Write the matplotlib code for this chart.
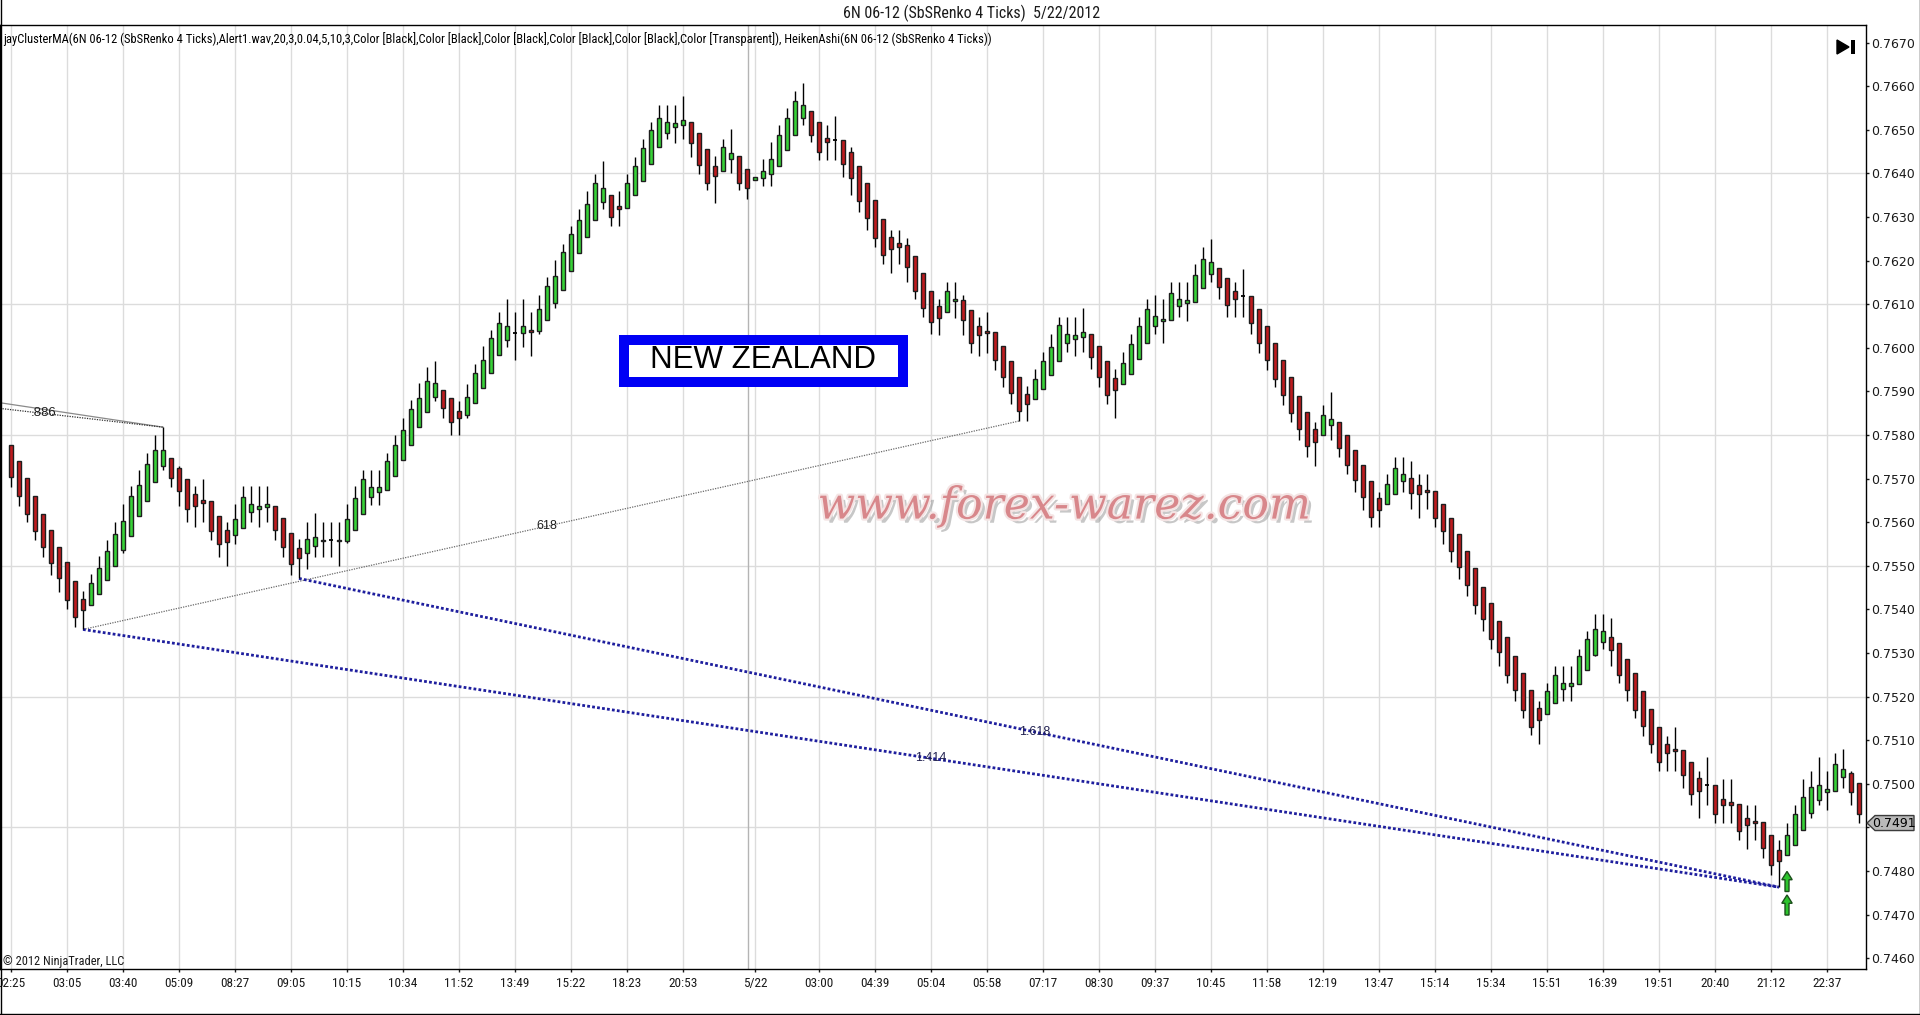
"""
6N 06-12 SbSRenko 4 ticks, Heiken-Ashi candles with fib drawings (NinjaTrader look).
"""

import numpy as np
import matplotlib
matplotlib.use("Agg")
import matplotlib.pyplot as plt
import matplotlib.patheffects as pe
from matplotlib import font_manager as fm
from matplotlib.patches import Polygon, Rectangle
from matplotlib.lines import Line2D

W, H = 1920, 1015

# ── data (Heiken-Ashi candles, pips above 0.7500) ─────────────────
BASE, PIP = 0.7500, 0.0001

OPEN = [
    77.6, 74.1, 70.1, 66.0, 61.9, 58.3, 54.4, 50.8, 46.4, 42.3,
    41.1, 43.5, 46.7, 49.9, 53.7, 56.9, 61.5, 64.9, 69.2, 72.9,
    74.7, 72.4, 69.9, 66.5, 65.2, 64.9, 61.5, 58.1, 57.0, 58.7,
    62.3, 63.1, 63.5, 63.8, 61.0, 57.6, 54.0, 53.0, 54.6, 55.6,
    55.9, 56.0, 55.8, 58.3, 61.9, 65.7, 66.9, 67.4, 70.6, 74.2,
    77.7, 81.8, 85.2, 88.8, 90.4, 88.4, 85.6, 84.7, 87.3, 90.7,
    94.2, 98.3, 101.8, 103.4, 103.4, 104.1, 103.9, 106.4, 110.3, 113.2,
    117.6, 121.7, 125.5, 129.2, 133.5, 135.1, 132.6, 132.1, 135.1, 138.3,
    142.2, 146.0, 149.2, 150.6, 151.0, 151.7, 149.2, 145.7, 141.8, 140.5,
    143.2, 143.9, 140.9, 138.6, 138.9, 139.8, 141.6, 145.3, 148.9, 152.8,
    154.2, 151.7, 148.2, 147.6, 147.6, 144.8, 141.8, 137.7, 133.8, 129.5,
    125.3, 124.0, 123.5, 121.0, 117.1, 113.0, 109.5, 108.2, 110.7, 110.9,
    108.6, 105.0, 103.8, 103.6, 100.4, 96.9, 93.3, 89.4, 88.2, 90.5,
    93.7, 96.9, 101.1, 102.0, 102.4, 103.1, 100.4, 96.9, 93.0, 91.7,
    93.9, 97.4, 101.1, 105.0, 106.1, 106.3, 109.5, 110.2, 110.5, 113.7,
    116.9, 118.3, 116.0, 113.0, 111.9, 111.9, 108.9, 104.9, 101.0, 97.1,
    93.2, 89.0, 85.3, 81.4, 80.0, 82.3, 83.0, 80.0, 76.5, 73.1,
    69.4, 65.5, 64.1, 66.4, 69.4, 70.2, 68.6, 67.4, 67.2, 64.2,
    61.0, 57.3, 53.4, 49.5, 45.2, 41.5, 37.4, 33.7, 29.4, 25.5,
    21.4, 17.3, 15.9, 18.6, 21.8, 22.5, 22.8, 26.0, 29.6, 32.6,
    33.7, 32.4, 28.7, 25.3, 21.2, 17.2, 13.1, 9.2, 8.0, 7.8,
    5.0, 1.4, -0.3, -0.3, -3.5, -4.2, -4.6, -7.9, -8.6, -8.8,
    -11.8, -15.2, -16.4, -14.1, -10.6, -6.7, -3.7, -1.9, -1.6, 1.6,
    2.5, 0.2,
]
CLOSE = [
    70.3, 66.0, 61.9, 58.0, 54.3, 50.7, 47.1, 42.1, 38.2, 39.8,
    46.0, 49.6, 53.3, 57.4, 60.3, 66.0, 68.5, 73.3, 76.5, 76.5,
    70.1, 67.2, 63.1, 63.8, 64.4, 58.0, 54.9, 55.5, 60.8, 65.8,
    64.1, 63.8, 64.1, 58.3, 54.4, 50.3, 51.9, 56.2, 56.5, 56.0,
    55.9, 55.6, 60.8, 65.6, 69.9, 68.1, 68.1, 74.0, 77.7, 81.1,
    85.9, 88.6, 92.5, 92.0, 86.3, 82.9, 83.8, 88.8, 94.3, 97.3,
    102.3, 105.7, 105.0, 103.4, 105.0, 103.7, 108.9, 114.1, 116.4, 121.9,
    126.0, 129.2, 133.0, 137.8, 136.7, 129.9, 131.9, 137.8, 141.7, 145.8,
    149.9, 152.6, 151.7, 151.5, 152.2, 146.9, 141.9, 137.9, 139.3, 146.0,
    144.6, 137.9, 136.6, 139.1, 140.5, 143.4, 148.9, 152.8, 156.7, 155.6,
    148.9, 145.0, 147.1, 147.6, 142.1, 138.9, 133.6, 129.7, 125.1, 121.2,
    122.6, 123.1, 118.5, 113.0, 109.1, 105.9, 106.9, 113.0, 111.2, 106.3,
    101.1, 102.9, 103.4, 97.2, 93.3, 89.6, 85.5, 87.1, 92.8, 96.9,
    100.1, 105.2, 103.1, 102.9, 103.6, 97.8, 93.3, 89.1, 90.3, 96.5,
    100.8, 105.0, 108.9, 107.3, 106.6, 112.5, 111.2, 110.9, 116.7, 120.4,
    119.7, 113.9, 109.8, 111.2, 111.9, 105.6, 101.2, 97.1, 92.9, 89.2,
    85.1, 81.4, 77.5, 78.4, 84.6, 83.7, 77.0, 73.1, 69.6, 65.7,
    61.3, 62.9, 68.7, 72.4, 71.0, 66.7, 66.5, 67.0, 61.0, 58.0,
    53.4, 49.8, 45.7, 41.1, 37.9, 33.1, 30.3, 25.0, 21.6, 17.0,
    13.1, 14.7, 21.2, 25.0, 23.2, 23.2, 29.2, 33.1, 35.6, 35.1,
    30.8, 25.0, 21.6, 17.0, 13.3, 9.2, 5.0, 7.1, 7.6, 2.0,
    -2.3, -1.6, -0.3, -6.9, -4.9, -4.9, -10.9, -9.5, -9.0, -14.8,
    -18.7, -17.8, -11.8, -6.9, -3.0, -0.7, -0.3, -1.2, 4.6, 3.4,
    -1.9, -6.9,
]
HIGH = [
    77.6, 74.1, 70.1, 66.0, 61.9, 58.3, 54.4, 50.8, 46.4, 44.2,
    48.1, 52.2, 56.0, 60.1, 64.1, 68.2, 72.0, 75.9, 80.0, 81.8,
    74.7, 72.8, 69.9, 68.2, 70.0, 64.9, 61.5, 60.1, 64.1, 68.2,
    68.2, 68.2, 68.2, 63.8, 61.0, 57.6, 56.1, 60.1, 62.0, 60.1,
    60.1, 60.1, 64.1, 68.2, 72.0, 72.0, 72.0, 75.8, 80.0, 83.8,
    88.0, 91.9, 95.7, 96.9, 90.4, 88.4, 87.9, 91.8, 96.2, 100.3,
    104.1, 108.2, 111.2, 108.2, 111.2, 108.2, 112.1, 116.2, 120.1, 123.9,
    128.0, 131.9, 136.0, 139.9, 142.8, 135.1, 136.0, 139.9, 143.8, 147.9,
    151.7, 155.8, 155.8, 155.8, 157.7, 151.7, 149.2, 145.7, 143.9, 148.0,
    150.1, 143.9, 140.9, 139.1, 143.2, 147.1, 151.0, 154.9, 159.0, 160.8,
    154.2, 151.7, 151.0, 153.1, 147.6, 146.0, 141.8, 137.7, 133.8, 129.5,
    127.0, 127.0, 125.1, 121.0, 117.1, 113.0, 111.2, 115.1, 115.1, 112.1,
    108.6, 107.0, 108.2, 103.6, 100.4, 96.9, 93.3, 91.2, 95.1, 99.0,
    103.1, 107.0, 107.0, 107.0, 109.1, 103.1, 100.4, 96.9, 95.1, 99.0,
    103.1, 107.0, 111.2, 112.1, 111.2, 115.1, 115.1, 115.1, 119.2, 123.2,
    125.0, 118.3, 116.0, 115.1, 118.1, 111.9, 108.9, 104.9, 101.0, 97.1,
    93.2, 89.0, 85.3, 83.0, 86.9, 89.9, 83.0, 80.0, 76.5, 73.1,
    69.4, 66.9, 71.0, 74.9, 74.9, 74.1, 71.1, 71.1, 67.2, 64.2,
    61.0, 57.3, 53.4, 49.5, 45.2, 41.5, 37.4, 33.7, 29.4, 25.5,
    21.4, 19.1, 23.2, 27.1, 27.1, 27.1, 31.0, 35.1, 39.0, 39.0,
    38.1, 32.4, 28.7, 25.3, 21.2, 17.2, 13.1, 11.0, 13.1, 7.8,
    5.0, 3.0, 6.2, -0.3, 1.0, 1.0, -4.6, -4.9, -4.9, -8.8,
    -11.8, -12.9, -9.0, -4.9, 1.0, 3.0, 6.2, 3.0, 7.1, 8.0,
    3.0, 0.2,
]
LOW = [
    68.0, 63.8, 60.0, 55.9, 52.1, 48.0, 44.1, 40.1, 36.0, 35.4,
    41.1, 43.5, 46.7, 49.9, 53.0, 56.9, 61.5, 64.9, 69.2, 71.9,
    68.0, 63.8, 60.0, 58.9, 60.0, 55.9, 52.1, 50.0, 55.0, 58.7,
    60.0, 58.9, 60.0, 55.9, 52.1, 48.0, 47.1, 49.3, 52.1, 52.1,
    52.1, 50.0, 55.3, 58.3, 61.9, 63.9, 63.9, 67.4, 70.6, 74.2,
    77.7, 81.8, 85.2, 87.9, 83.8, 80.0, 80.0, 83.8, 87.3, 90.7,
    94.2, 98.3, 100.2, 97.2, 100.2, 98.2, 103.1, 106.4, 109.1, 113.2,
    117.6, 121.7, 125.5, 129.2, 131.9, 128.0, 128.0, 132.1, 135.1, 138.3,
    142.2, 146.0, 147.9, 146.9, 147.9, 143.8, 139.9, 136.1, 133.1, 140.5,
    140.0, 136.1, 134.1, 138.6, 137.0, 137.0, 141.6, 145.3, 148.9, 151.0,
    147.1, 143.0, 143.0, 143.0, 139.1, 135.0, 131.1, 127.0, 123.1, 119.2,
    117.1, 119.2, 115.0, 111.2, 107.0, 103.1, 103.0, 108.2, 106.9, 103.0,
    98.9, 98.1, 98.9, 95.0, 91.1, 87.1, 83.2, 83.2, 88.2, 90.5,
    93.7, 96.9, 99.0, 98.1, 99.0, 95.1, 91.1, 87.1, 84.0, 91.7,
    93.9, 97.4, 101.1, 103.1, 101.1, 106.3, 107.0, 106.1, 110.5, 113.7,
    115.1, 111.2, 107.0, 107.0, 107.0, 103.1, 98.9, 95.0, 91.1, 86.9,
    83.0, 78.9, 74.9, 72.9, 80.0, 78.9, 74.9, 71.0, 66.9, 62.9,
    58.8, 58.8, 64.1, 66.4, 66.9, 63.1, 61.0, 63.1, 58.9, 55.0,
    50.9, 47.0, 43.1, 39.0, 35.1, 31.0, 27.1, 23.2, 19.1, 15.2,
    11.1, 9.2, 15.9, 18.6, 19.1, 19.1, 22.8, 26.0, 29.2, 31.0,
    27.1, 23.2, 19.1, 15.2, 11.0, 7.0, 2.9, 2.9, 2.9, -1.0,
    -4.9, -7.9, -4.9, -9.0, -9.0, -9.0, -12.9, -15.0, -12.9, -17.1,
    -21.0, -23.7, -16.4, -14.1, -10.6, -7.9, -4.9, -6.0, -1.6, -1.0,
    -4.9, -9.0,
]

TIME_LABELS = ["02:25", "03:05", "03:40", "05:09", "08:27", "09:05", "10:15",
               "10:34", "11:52", "13:49", "15:22", "18:23", "20:53", "5/22",
               "03:00", "04:39", "05:04", "05:58", "07:17", "08:30", "09:37",
               "10:45", "11:58", "12:19", "13:47", "15:14", "15:34", "15:51",
               "16:39", "19:51", "20:40", "21:12", "22:37"]
TIME_BARS = [0, 7, 14, 21, 28, 35, 42, 49, 56, 63, 70, 77, 84, 93,
             101, 108, 115, 122, 129, 136, 143, 150, 157, 164, 171, 178,
             185, 192, 199, 206, 213, 220, 227]
SESSION_BREAK = 92.1

PRICE_TICKS = [0.7460 + 0.001 * k for k in range(22)]
GRID_PRICES = [0.7490, 0.7520, 0.7550, 0.7580, 0.7610, 0.7640]
LAST_PRICE = 0.7491

# fib drawings: (bar, pips) anchors
FIB886_LEFT = [87.4, 86.1]          # where the two .886 lines enter the chart
FIB886_BAR = 19
FIB618_BARS = [9, 126]
EXT_START_BARS = [9, 36]            # 1.414 and 1.618 lines
EXT_END_BAR = 221
SIGNAL_BAR = 222
SIGNAL_TIPS = [-20.1, -25.5]

# ── palette ───────────────────────────────────────────────────────
GREEN = "#37D237"
RED = "#BE1B1E"
EDGE = "#1E1E1E"
GRID = "#DCDCDC"
BLUE = "#1E1E9E"
DARK = "#1A1A1A"


def pick_font(*names):
    for n in names:
        try:
            fm.findfont(fm.FontProperties(family=n), fallback_to_default=False)
            return n
        except Exception:
            continue
    return "DejaVu Sans"


NARROW = pick_font("Liberation Sans Narrow", "Roboto Condensed", "Liberation Sans")
SANS = pick_font("Liberation Sans", "DejaVu Sans")


def fx(px):
    return px / W


def fy(py):
    return 1 - py / H


def fpoly(pts, **kw):
    fig.patches.append(Polygon([(fx(a), fy(b)) for a, b in pts], closed=True,
                               transform=fig.transFigure, **kw))


def p(v):
    return BASE + np.asarray(v, dtype=float) * PIP


# ══════════════════════════════════════════════════════════════════
# FIGURE / AXES
# ══════════════════════════════════════════════════════════════════
fig = plt.figure(figsize=(W / 100, H / 100), dpi=100)
fig.patch.set_facecolor("white")

AX_L, AX_R, AX_T, AX_B = 0, 1866, 25, 969
ax = fig.add_axes([fx(AX_L), fy(AX_B), (AX_R - AX_L) / W, (AX_B - AX_T) / H])
ax.set_facecolor("white")
ax.set_xlim(-11 / 8, (AX_R - 11) / 8)
ax.set_ylim(0.7580 - (AX_B - 435) / 43600, 0.7580 + (435 - AX_T) / 43600)
for s in ax.spines.values():
    s.set_color("black")
    s.set_linewidth(1.0)

# grid
for g in GRID_PRICES:
    ax.axhline(g, color=GRID, lw=1, zorder=0.5)
for b in TIME_BARS:
    ax.axvline(b, color=GRID, lw=1, zorder=0.5)
ax.axvline(SESSION_BREAK, color="#B4B4B4", lw=1, zorder=0.6)

# ══════════════════════════════════════════════════════════════════
# CANDLES
# ══════════════════════════════════════════════════════════════════
o, c, h, l = p(OPEN), p(CLOSE), p(HIGH), p(LOW)
x = np.arange(len(o))
up, dn, flat = c > o, c < o, np.isclose(c, o)
dn = dn & ~flat
up = up & ~flat
BW = 0.62
ax.vlines(x, l, h, color="black", lw=1, zorder=2)
ax.bar(x[up], (c - o)[up], bottom=o[up], width=BW, color=GREEN,
       edgecolor=EDGE, lw=1, zorder=3)
ax.bar(x[dn], (o - c)[dn], bottom=c[dn], width=BW, color=RED,
       edgecolor=EDGE, lw=1, zorder=3)
ax.hlines(o[flat], x[flat] - BW / 2, x[flat] + BW / 2, color="black",
          lw=1.3, zorder=3)

# ══════════════════════════════════════════════════════════════════
# DRAWINGS
# ══════════════════════════════════════════════════════════════════
x0 = ax.get_xlim()[0]
ax.plot([x0, FIB886_BAR], [p(FIB886_LEFT[0]), h[FIB886_BAR]],
        color="#8A8A8A", lw=0.9, zorder=1.5)
ax.plot([x0, FIB886_BAR], [p(FIB886_LEFT[1]), h[FIB886_BAR]],
        color="#303030", lw=0.9, ls=(0, (1, 1)), zorder=1.5)
ax.text(4.1, p(85.0), ".886", fontsize=9.5, family=SANS, color="#202020",
        ha="center", va="center", zorder=5)

b1, b2 = FIB618_BARS
ax.plot([b1, b2], [l[b1], l[b2]], color="#6A6A6A", lw=0.9,
        ls=(0, (1, 1)), zorder=1.5)
ax.text(67, l[b1] + (l[b2] - l[b1]) * (67 - b1) / (b2 - b1), "618",
        fontsize=9, family=SANS, color="#202020",
        ha="center", va="center", zorder=5)

for sb, lab, lx in zip(EXT_START_BARS, ["1.414", "1.618"], [115, 128]):
    ax.plot([sb, EXT_END_BAR], [l[sb], l[EXT_END_BAR]], color=BLUE, lw=2,
            ls=(0, (1, 0.8)), zorder=1.6)
    ly = l[sb] + (l[EXT_END_BAR] - l[sb]) * (lx - sb) / (EXT_END_BAR - sb)
    ax.text(lx, ly, lab, fontsize=9, family=SANS, color="#202050",
            ha="center", va="center", zorder=5)

# signal arrows
for tip in SIGNAL_TIPS:
    t = float(p(tip))
    hd, bs = t - 1.9 * PIP, t - 4.6 * PIP
    xs = SIGNAL_BAR
    ax.add_patch(Polygon([(xs, t), (xs + 0.65, hd), (xs + 0.25, hd),
                          (xs + 0.25, bs), (xs - 0.25, bs), (xs - 0.25, hd),
                          (xs - 0.65, hd)], closed=True, facecolor="#2CC42C",
                         edgecolor="#1B4F1B", lw=1, zorder=4))

# ══════════════════════════════════════════════════════════════════
# AXES TICKS
# ══════════════════════════════════════════════════════════════════
ax.yaxis.tick_right()
ax.set_yticks(PRICE_TICKS)
# the 0.7490 label sits under the last-price tag
ax.set_yticklabels(["" if abs(v - LAST_PRICE) < 0.0005 else f"{v:.4f}"
                    for v in PRICE_TICKS])
ax.tick_params(axis="y", direction="out", length=2.2, width=1, pad=1.2,
               labelsize=9, colors=DARK)
for t in ax.get_yticklabels():
    t.set_family("DejaVu Sans")
ax.set_xticks(TIME_BARS)
ax.set_xticklabels(TIME_LABELS)
ax.tick_params(axis="x", direction="out", length=2.2, width=1, pad=3.5,
               labelsize=9.5, colors=DARK)
for t in ax.get_xticklabels():
    t.set_family(NARROW)

# ══════════════════════════════════════════════════════════════════
# OVERLAYS (figure pixels)
# ══════════════════════════════════════════════════════════════════
fig.text(fx(972), fy(13), "6N 06-12 (SbSRenko 4 Ticks)  5/22/2012",
         fontsize=11.5, family=NARROW, color=DARK, ha="center", va="center")
fig.text(fx(3), fy(39),
         "jayClusterMA(6N 06-12 (SbSRenko 4 Ticks),Alert1.wav,20,3,0.04,5,10,3,"
         "Color [Black],Color [Black],Color [Black],Color [Black],Color [Black],"
         "Color [Transparent]), HeikenAshi(6N 06-12 (SbSRenko 4 Ticks))",
         fontsize=9.0, family=NARROW, color="black", ha="left", va="center")
fig.text(fx(3), fy(961), "\u00a9 2012 NinjaTrader, LLC", fontsize=8.9,
         family=NARROW, color=DARK, ha="left", va="center")

# play button
fpoly([(1837, 40), (1849, 47), (1837, 54)], facecolor="black", edgecolor="black")
fig.patches.append(Rectangle((fx(1851), fy(54)), 3.5 / W, 14 / H,
                             transform=fig.transFigure, facecolor="black"))

# last price tag
ty = 435 + (0.7580 - LAST_PRICE) * 43600
fpoly([(1867, ty), (1875, ty - 7.5), (1914, ty - 7.5), (1914, ty + 7.5),
       (1875, ty + 7.5)], facecolor="#B9B9B9", edgecolor="#3C3C3C", lw=1,
      zorder=5)
fig.text(fx(1894), fy(ty), f"{LAST_PRICE:.4f}", fontsize=9,
         family="DejaVu Sans", color="black", ha="center", va="center",
         zorder=6)

# NEW ZEALAND box
fig.patches.append(Rectangle((fx(619), fy(387.5)), 289 / W, 52.5 / H,
                             transform=fig.transFigure, facecolor="#0000F5",
                             edgecolor="none", zorder=5))
fig.patches.append(Rectangle((fx(629), fy(377.5)), 269 / W, 32.5 / H,
                             transform=fig.transFigure, facecolor="white",
                             edgecolor="none", zorder=5))
fig.text(fx(762.5), fy(360), "NEW ZEALAND", fontsize=22.5, family=SANS,
         color="black", ha="center", va="center", zorder=6)

# watermark
fig.text(fx(1064), fy(506), "www.forex-warez.com", fontsize=31.8,
         family="DejaVu Serif", style="italic", color="#D8878B",
         ha="center", va="center", zorder=6,
         path_effects=[pe.SimplePatchShadow(offset=(3, -3),
                                            shadow_rgbFace="#9A9A9A", alpha=0.55),
                       pe.Stroke(linewidth=3, foreground="#F4E4E4"),
                       pe.Normal()])

# outer frame
for seg in [((0.5, 0.5), (0, H)), ((W - 0.5, W - 0.5), (0, H)),
            ((0, W), (H - 0.8, H - 0.8))]:
    fig.lines.append(Line2D([fx(seg[0][0]), fx(seg[0][1])],
                            [fy(seg[1][0]), fy(seg[1][1])],
                            transform=fig.transFigure, color="black", lw=1))

fig.savefig("out.png", dpi=100, facecolor="white")
